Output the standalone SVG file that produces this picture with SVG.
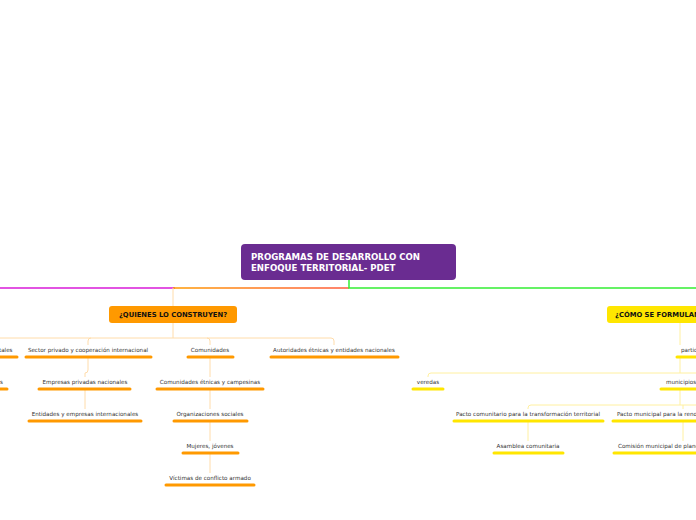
<svg xmlns="http://www.w3.org/2000/svg" width="696" height="520" viewBox="0 0 696 520">
<style>
text{font-family:"DejaVu Sans","Liberation Sans",sans-serif}
.t{font-size:5.6px;fill:#333;text-anchor:middle}
.ts{font-size:5.6px;fill:#333}
.bo{stroke:#ff9900;stroke-width:3;stroke-linecap:round}
.by{stroke:#ffe600;stroke-width:3;stroke-linecap:round}
.co{fill:none;stroke:#ffdcaa;stroke-width:1}
.cy{fill:none;stroke:#fff0a0;stroke-width:1}
</style>
<defs><linearGradient id="g" gradientUnits="userSpaceOnUse" x1="173" y1="0" x2="349" y2="0"><stop offset="0" stop-color="#ff9900"/><stop offset="1" stop-color="#ff5a3c"/></linearGradient></defs>
<g id="connectors">
<path d="M0 288H175" stroke="#d81ad8" stroke-width="1.5" fill="none"/>
<path d="M173 288H349" stroke="url(#g)" stroke-width="1.5" fill="none"/>
<path d="M349 280V288H696" stroke="#33ee33" stroke-width="1.5" fill="none"/>
<path class="co" d="M173 288V306M173 323V338M0 338H331Q334 338 334 341V345M91 338Q88 338 88 341V345M207 338Q210 338 210 341V345"/>
<path class="co" d="M88 357V370Q88 373 85 373V377M85 389V409M210 357V377M210 389V409M210 421V441M210 453V473"/>
<path class="cy" d="M680 323V345M680 357V373M431 373H696M431 373Q428 373 428 376V377M680 389V405M531 405H696M531 405Q528 405 528 408V409M683 405V409M528 421V441M683 421V441"/>
</g>
<g id="root"><rect x="241" y="244" width="215" height="36" rx="4" fill="#6a2c91"/>
<text x="251" y="260" font-size="8.6" font-weight="bold" fill="#fff">PROGRAMAS DE DESARROLLO CON</text>
<text x="251" y="271" font-size="8.6" font-weight="bold" fill="#fff">ENFOQUE TERRITORIAL-  PDET</text></g>
<g id="quienes"><rect x="109" y="306" width="128" height="17" rx="3" fill="#ff9900"/>
<text x="173" y="317" font-size="6.8" font-weight="bold" fill="#111" text-anchor="middle">¿QUIENES LO CONSTRUYEN?</text></g>
<g id="como"><rect x="607" y="306" width="100" height="17" rx="3" fill="#ffe600"/>
<text x="615" y="317" font-size="6.8" font-weight="bold" fill="#111">¿CÓMO SE FORMULAN?</text></g>
<g id="n1"><text class="ts" x="-1" y="352">tales</text><line class="bo" x1="0" y1="357" x2="17" y2="357"/></g>
<g id="n2"><text class="t" x="88" y="352">Sector privado y cooperación internacional</text><line class="bo" x1="26" y1="357" x2="151" y2="357"/></g>
<g id="n3"><text class="t" x="210" y="352">Comunidades</text><line class="bo" x1="188" y1="357" x2="233" y2="357"/></g>
<g id="n4"><text class="t" x="334" y="352">Autoridades étnicas y entidades nacionales</text><line class="bo" x1="271" y1="357" x2="398" y2="357"/></g>
<g id="n5"><text class="ts" x="0" y="384">s</text><line class="bo" x1="0" y1="389" x2="7" y2="389"/></g>
<g id="n6"><text class="t" x="85" y="384">Empresas privadas nacionales</text><line class="bo" x1="39" y1="389" x2="130" y2="389"/></g>
<g id="n7"><text class="t" x="210" y="384">Comunidades étnicas y campesinas</text><line class="bo" x1="157" y1="389" x2="263" y2="389"/></g>
<g id="n8"><text class="t" x="85" y="416">Entidades y empresas internacionales</text><line class="bo" x1="29" y1="421" x2="141" y2="421"/></g>
<g id="n9"><text class="t" x="210" y="416">Organizaciones sociales</text><line class="bo" x1="174" y1="421" x2="247" y2="421"/></g>
<g id="n10"><text class="t" x="210" y="448">Mujeres, jóvenes</text><line class="bo" x1="183" y1="453" x2="238" y2="453"/></g>
<g id="n11"><text class="t" x="210" y="480">Víctimas de conflicto armado</text><line class="bo" x1="166" y1="485" x2="254" y2="485"/></g>
<g id="y1"><text class="ts" x="681" y="352">partic</text><line class="by" x1="677" y1="357" x2="696" y2="357"/></g>
<g id="y2"><text class="t" x="428" y="384">veredas</text><line class="by" x1="413" y1="389" x2="443" y2="389"/></g>
<g id="y3"><text class="ts" x="666" y="384">municipios</text><line class="by" x1="661" y1="389" x2="696" y2="389"/></g>
<g id="y4"><text class="t" x="528" y="416">Pacto comunitario para la transformación territorial</text><line class="by" x1="454" y1="421" x2="603" y2="421"/></g>
<g id="y5"><text class="ts" x="617" y="416">Pacto municipal para la reno</text><line class="by" x1="613" y1="421" x2="696" y2="421"/></g>
<g id="y6"><text class="t" x="528" y="448">Asamblea comunitaria</text><line class="by" x1="494" y1="453" x2="563" y2="453"/></g>
<g id="y7"><text class="ts" x="618" y="448">Comisión municipal de plane</text><line class="by" x1="614" y1="453" x2="696" y2="453"/></g>
</svg>
